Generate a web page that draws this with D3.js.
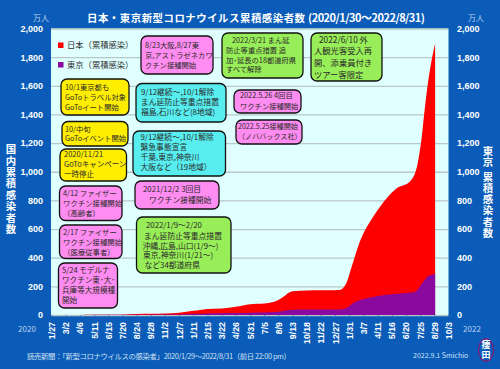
<!DOCTYPE html>
<html>
<head>
<meta charset="utf-8">
<script src="https://cdn.jsdelivr.net/npm/d3@7"></script>
<style>
    html, body { margin: 0; padding: 0; background: #0a5cb8; overflow: hidden; }
    svg { display: block; }
    text { font-family: "Noto Sans CJK JP", "Noto Sans", sans-serif; }
    .tick text { font-family: "Liberation Sans", sans-serif; font-weight: bold; fill: #fff; }
</style>
</head>
<body>
<svg width="500" height="369"></svg>
<script>
// cumulative cases, units of 10,000 people
const japanDates = ["2020-01-27","2020-03-02","2020-04-06","2020-05-11","2020-06-15","2020-07-20","2020-08-24","2020-09-28","2020-11-02","2020-12-07","2021-01-11","2021-01-27","2021-02-15","2021-03-22","2021-04-26","2021-05-31","2021-07-05","2021-07-27","2021-08-09","2021-08-25","2021-09-07","2021-09-13","2021-10-18","2021-11-22","2021-12-27","2022-01-07","2022-01-24","2022-02-06","2022-02-26","2022-03-31","2022-05-03","2022-05-28","2022-06-29","2022-07-03","2022-07-19","2022-07-28","2022-08-05","2022-08-12","2022-08-21","2022-08-31"]
const japanValues = [0,0.03,0.4,1.6,1.7,2.6,6.3,8.2,10,16,29,35,42,46,57,75,80,90,105,135,160,165,171,172,173,174,223,337,511,686,814,884,930,942,1060,1221,1430,1593,1758,1896]

const tokyoDates = ["2020-01-27","2020-04-06","2020-07-20","2020-08-24","2020-09-28","2020-11-02","2020-12-07","2021-01-11","2021-02-15","2021-03-22","2021-04-26","2021-05-31","2021-07-05","2021-08-09","2021-09-13","2021-10-18","2021-11-22","2021-12-27","2022-01-07","2022-01-24","2022-02-09","2022-03-05","2022-03-30","2022-05-03","2022-06-13","2022-07-13","2022-07-30","2022-08-14","2022-08-31"]
const tokyoValues = [0,0.4,0.9,1.9,2.5,3.1,4.3,8,11,12,13.5,16,17.5,23.5,37,38,38,38,38,48,82,110,125,142,152,163,221,272,286]

const xTickDates = ["2020-01-27","2020-03-02","2020-04-06","2020-05-11","2020-06-15","2020-07-20","2020-08-24","2020-09-28","2020-11-02","2020-12-07","2021-01-11","2021-02-15","2021-03-22","2021-04-26","2021-05-31","2021-07-05","2021-08-09","2021-09-13","2021-10-18","2021-11-22","2021-12-27","2022-01-31","2022-03-07","2022-04-11","2022-05-16","2022-06-20","2022-07-25","2022-08-29","2022-10-03"]
const yTicks = [0,200,400,600,800,1000,1200,1400,1600,1800,2000]

const legendLabels = ["日本（累積感染）","東京（累積感染）"]
const seriesColors = ["#ff0000","#8a0aa0"]

const pink = "#ff8cf0", green = "#98ee58", cyan = "#58eef0", yellow = "#ffee00"

// annotation boxes: [x0, y0, x1, y1, fill, font size, lines as [x, centre y, text]]
const noteBoxes = [
    [141,36,213,74,pink,7.3,[[145,45,"8/23大阪,8/27東"],[145,55,"京,アストラゼネカワ"],[145,65,"クチン接種開始"]]],
    [222,33,303,78,green,7.3,[[232,40,"2022/3/21 まん延"],[226,50.5,"防止等重点措置 追"],[226,60,"加･延長の18都道府県"],[226,69.5,"すべて解除"]]],
    [311,33,382,81,green,8.3,[[319,40,"2022/6/10  外"],[314,51.5,"人観光客受入再"],[314,63,"開、添乗員付き"],[314,75,"ツアー客限定"]]],
    [61,79,129,115,yellow,7.3,[[65,87,"10/1東京都も"],[65,97,"GoToトラベル対象"],[65,107,"GoToイート開始"]]],
    [136,83.5,226,122,cyan,7.8,[[141,92.2,"9/12継続～,10/1解除"],[141,102,"まん延防止等重点措置"],[141,111.8,"福島,石川など(8地域)"]]],
    [234,90,301,113,pink,7.3,[[240,95.5,"2022.5.26  4回目"],[240,106.5,"ワクチン接種開始"]]],
    [236,120,302,144,pink,7.1,[[238,126.7,"2022.5.25接種開始"],[238,136.7,"（ノババックス社）"]]],
    [62,121.5,128,146,yellow,7.3,[[65,129,"10/中旬"],[65,138.7,"GoToイベント開始"]]],
    [60,149,126.5,181,yellow,7.5,[[64,154.7,"2020/11/21"],[64,164.7,"GoToキャンペーン"],[64,174.3,"一時停止"]]],
    [133,131,225.5,176,cyan,7.8,[[140.5,137.7,"9/12継続～,10/1解除"],[140.5,147.5,"緊急事態宣言"],[140.5,157.3,"千葉,東京,神奈川"],[140.5,167.7,"大阪など（19地域）"]]],
    [135,181,219,209,pink,7.8,[[143,189,"2021/12/2 3回目"],[149,200,"ワクチン接種開始"]]],
    [59.5,186,122,220.5,pink,7.4,[[63,193,"4/12 ファイザー"],[63,203,"ワクチン接種開始"],[63,213,"（高齢者）"]]],
    [59.5,225,122,258.5,pink,7.4,[[63,232,"2/17 ファイザー"],[63,242,"ワクチン接種開始"],[63,252,"（医療従事者）"]]],
    [58.5,263,117.5,308,pink,7.6,[[62,270.5,"5/24 モデルナ"],[62,280.5,"ワクチン東･大･"],[62,290.5,"兵庫等大規模種"],[62,300.5,"開始"]]],
    [136.5,217,231,273,green,7.8,[[146,225.7,"2022/1/9～2/20"],[144,236,"まん延防止等重点措置"],[142.5,245.8,"沖縄,広島,山口(1/9～)"],[143,255.6,"東京,神奈川(1/21～)"],[144.5,265.4,"など34都道府県"]]]
]

const parseDate = d3.utcParse("%Y-%m-%d")
const svg = d3.select("svg")

const x = d3.scaleUtc()
    .domain([parseDate("2020-01-27"), parseDate("2022-10-03")])
    .range([51.5, 448.5])

const y = d3.scaleLinear()
    .domain([0, 2000])
    .range([315, 28.5])

svg.append("rect")
    .attr("x", 51)
    .attr("y", 28.5)
    .attr("width", 397.5)
    .attr("height", 286.5)
    .style("fill", "#e0ffff")

// left axis doubles as the grid
const leftAxis = svg.append("g")
    .attr("transform", "translate(51, 0)")
    .call(d3.axisLeft(y).tickValues(yTicks).tickFormat(d3.format(",")).tickSize(-397).tickPadding(8))
leftAxis.select(".domain").remove()
leftAxis.selectAll(".tick line").style("stroke", "#b9c7c7").style("stroke-width", 1.3)
leftAxis.selectAll(".tick text").style("font-size", "9px")

const rightAxis = svg.append("g")
    .attr("transform", "translate(448.5, 0)")
    .call(d3.axisRight(y).tickValues(yTicks).tickFormat(d3.format(",")).tickSize(0).tickPadding(8.5))
rightAxis.select(".domain").remove()
rightAxis.selectAll(".tick text").style("font-size", "9px")

const area = d3.area()
    .x(d => x(d[0]))
    .y0(y(0))
    .y1(d => y(d[1]))
    .curve(d3.curveMonotoneX)

svg.append("path")
    .attr("d", area(d3.zip(japanDates.map(parseDate), japanValues)))
    .style("fill", seriesColors[0])

svg.append("path")
    .attr("d", area(d3.zip(tokyoDates.map(parseDate), tokyoValues)))
    .style("fill", seriesColors[1])

const bottomAxis = svg.append("g")
    .attr("transform", "translate(0, 315)")
    .call(d3.axisBottom(x).tickValues(xTickDates.map(parseDate)).tickFormat(d3.utcFormat("%-m/%-d")).tickSize(2))
bottomAxis.select(".domain").remove()
bottomAxis.selectAll(".tick line").style("stroke", "#3c7cc8")
bottomAxis.selectAll(".tick text")
    .style("font-size", "8.8px")
    .attr("text-anchor", "end")
    .attr("transform", "rotate(-90)")
    .attr("x", -7)
    .attr("y", 0)
    .attr("dy", "0.34em")

const noteGroups = svg.selectAll("g.note")
    .data(noteBoxes)
    .enter()
    .append("g")
    .attr("class", "note")

noteGroups.append("rect")
    .attr("x", d => d[0])
    .attr("y", d => d[1])
    .attr("width", d => d[2] - d[0])
    .attr("height", d => d[3] - d[1])
    .attr("rx", 6)
    .style("fill", d => d[4])
    .style("stroke", "#111")
    .style("stroke-width", 1.3)

noteGroups.append("text")
    .style("font-size", d => d[5] + "px")
    .style("fill", "#2a2a2a")
    .selectAll("tspan")
    .data(d => d[6])
    .enter()
    .append("tspan")
    .attr("x", d => d[0])
    .attr("y", d => d[1] + 2.7)
    .text(d => d[2])

// legend
const legend = svg.selectAll("g.legend")
    .data(legendLabels)
    .enter()
    .append("g")
    .attr("class", "legend")
    .attr("transform", (d, i) => `translate(0, ${45 + i * 19.5})`)

legend.append("rect")
    .attr("x", 58)
    .attr("y", -2.5)
    .attr("width", 5.5)
    .attr("height", 5.5)
    .style("fill", (d, i) => seriesColors[i])

legend.append("text")
    .attr("x", 67)
    .attr("dy", "0.36em")
    .style("font-size", "8.3px")
    .style("fill", "#333")
    .text(d => d)

// title, split so the bracketed dates can run narrower
svg.append("text")
    .attr("x", 87)
    .attr("y", 22)
    .attr("textLength", 218)
    .style("font-size", "10.4px")
    .style("font-weight", "bold")
    .style("fill", "#fff")
    .text("日本・東京新型コロナウイルス累積感染者数")

svg.append("text")
    .attr("x", 308)
    .attr("y", 22)
    .attr("textLength", 117)
    .style("font-size", "11px")
    .style("font-weight", "bold")
    .style("fill", "#fff")
    .text("(2020/1/30～2022/8/31)")

const smallLabels = [
    [41,21,"万人",8,"middle"],
    [476,21,"万人",8,"middle"],
    [27,332,"2020",8,"middle"],
    [472,332,"2022",8,"middle"]
]
svg.selectAll("text.small")
    .data(smallLabels)
    .enter()
    .append("text")
    .attr("class", "small")
    .attr("x", d => d[0])
    .attr("y", d => d[1])
    .attr("text-anchor", d => d[4])
    .style("font-size", d => d[3] + "px")
    .style("fill", "#bcd2ee")
    .text(d => d[2])

function verticalLabel(label, cx, top, size, spacing){
    svg.append("text")
        .attr("x", cx)
        .attr("y", top)
        .style("writing-mode", "vertical-rl")
        .style("font-size", size + "px")
        .style("font-weight", "bold")
        .style("letter-spacing", spacing + "px")
        .style("fill", "#fff")
        .text(label)
}
verticalLabel("国内累積感染者数", 11, 144, 10.4, 1)
verticalLabel("東京 累積感染者数", 488, 145.5, 10.4, 0.9)

svg.append("text")
    .attr("x", 27)
    .attr("y", 359)
    .attr("textLength", 264)
    .style("font-size", "7.4px")
    .style("fill", "#d0e0f4")
    .text("読売新聞：「新型コロナウイルスの感染者」2020/1/29～2022/8/31（前日 22:00 pm）")

svg.append("text")
    .attr("x", 413)
    .attr("y", 358)
    .style("font-size", "7px")
    .style("fill", "#d0e0f4")
    .text("2022.9.1  Smichio")

// stamp
svg.append("ellipse")
    .attr("cx", 486)
    .attr("cy", 350)
    .attr("rx", 7.5)
    .attr("ry", 11)
    .style("fill", "none")
    .style("stroke", "#7a1f78")
    .style("stroke-width", 1.3)

verticalLabel("痩田", 486, 340.5, 9, 1)
</script>
</body>
</html>
